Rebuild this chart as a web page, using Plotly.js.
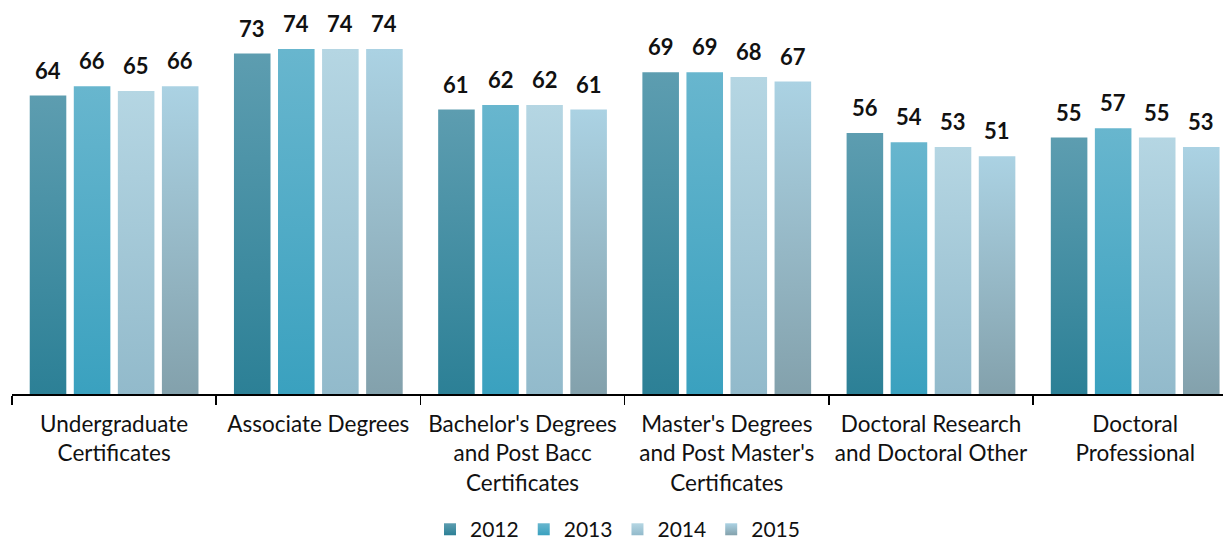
<!DOCTYPE html>
<html>
<head>
<meta charset="utf-8">
<script src="https://cdn.plot.ly/plotly-3.0.1.min.js"></script>
<style>
  html, body { margin: 0; padding: 0; background: #ffffff; }
  #chart { width: 1223px; height: 546px; }
</style>
</head>
<body>
<div id="chart"></div>
<script>
// ---- data ----
const categories = [
  "Undergraduate<br>Certificates",
  "Associate Degrees",
  "Bachelor's Degrees<br>and Post Bacc<br>Certificates",
  "Master's Degrees<br>and Post Master's<br>Certificates",
  "Doctoral Research<br>and Doctoral Other",
  "Doctoral<br>Professional"
];
const seriesNames = ["2012", "2013", "2014", "2015"];
const values2012 = [64, 73, 61, 69, 56, 55];
const values2013 = [66, 74, 62, 69, 54, 57];
const values2014 = [65, 74, 62, 68, 53, 55];
const values2015 = [66, 74, 61, 67, 51, 53];
const seriesValues = [values2012, values2013, values2014, values2015];

// ---- styling ----
const solidColors = ["#3e8ea4", "#48acc9", "#a6cbda", "#98b8c6"];
const gradients = [
  ["#5d9db0", "#2c8096"],
  ["#68b6ce", "#3aa1bf"],
  ["#b5d6e3", "#92bacb"],
  ["#abd2e3", "#83a1ac"]
];
const FONT = "Lato, 'Open Sans', sans-serif";

const bargap = 0.137;
const bargroupgap = 0.17;
const marginL = 12, marginR = 0, marginT = 0, marginB = 152;
const W = 1223, H = 546;
const xRange = [-0.5, 5.43];

const traces = seriesNames.map((name, i) => ({
  type: "bar",
  name: name,
  x: categories,
  y: seriesValues[i],
  marker: { color: solidColors[i], line: { width: 0 } },
  hoverinfo: "skip"
}));

// data labels as annotations (positioned on the value, shifted to each bar of the group)
const plotW = W - marginL - marginR;
const catPx = plotW / (xRange[1] - xRange[0]);
const pitch = catPx * (1 - bargap) / seriesNames.length;
const annotations = [];
seriesValues.forEach((vals, s) => {
  vals.forEach((v, c) => {
    annotations.push({
      x: categories[c], y: v, xref: "x", yref: "y",
      xshift: (s - (seriesNames.length - 1) / 2) * pitch,
      yshift: 10,
      yanchor: "bottom",
      showarrow: false,
      text: "<b>" + v + "</b>",
      font: { family: FONT, size: 22, color: "#111111" }
    });
  });
});

const layout = {
  width: W, height: H,
  margin: { l: marginL, r: marginR, t: marginT, b: marginB, pad: 0, autoexpand: false },
  paper_bgcolor: "#ffffff",
  plot_bgcolor: "#ffffff",
  barmode: "group",
  bargap: bargap,
  bargroupgap: bargroupgap,
  showlegend: true,
  legend: {
    orientation: "h",
    xref: "paper", x: 0.5, xanchor: "center",
    yref: "container", y: 0.03, yanchor: "middle",
    font: { family: FONT, size: 21, color: "#111111" },
    traceorder: "normal",
    itemclick: false, itemdoubleclick: false
  },
  xaxis: {
    type: "category",
    range: xRange,
    automargin: false,
    showline: true, linecolor: "#000000", linewidth: 2,
    ticks: "outside", tickson: "boundaries", ticklen: 9, tickcolor: "#000000", tickwidth: 1.5,
    ticklabelstandoff: 9,
    tickfont: { family: FONT, size: 22.5, color: "#111111" },
    showgrid: false, zeroline: false, fixedrange: true
  },
  yaxis: {
    range: [0, 84.5],
    automargin: false,
    visible: false, showgrid: false, zeroline: false, fixedrange: true
  },
  annotations: annotations
};

Plotly.newPlot("chart", traces, layout, { displayModeBar: false, staticPlot: true }).then(gd => {
  // apply vertical gradients to the bars and legend swatches
  const svg = gd.querySelector(".main-svg");
  const NS = "http://www.w3.org/2000/svg";
  let defs = svg.querySelector("defs");
  if (!defs) { defs = document.createElementNS(NS, "defs"); svg.insertBefore(defs, svg.firstChild); }
  gradients.forEach((g, i) => {
    const lg = document.createElementNS(NS, "linearGradient");
    lg.setAttribute("id", "bargrad" + i);
    lg.setAttribute("x1", "0"); lg.setAttribute("y1", "0");
    lg.setAttribute("x2", "0"); lg.setAttribute("y2", "1");
    const s1 = document.createElementNS(NS, "stop");
    s1.setAttribute("offset", "0"); s1.setAttribute("stop-color", g[0]);
    const s2 = document.createElementNS(NS, "stop");
    s2.setAttribute("offset", "1"); s2.setAttribute("stop-color", g[1]);
    lg.appendChild(s1); lg.appendChild(s2);
    defs.appendChild(lg);
  });
  const barTraces = gd.querySelectorAll(".barlayer .trace");
  barTraces.forEach((t, i) => {
    t.querySelectorAll("path").forEach(p => { p.style.fill = "url(#bargrad" + i + ")"; });
  });
  const legendTraces = gd.querySelectorAll(".legend .traces");
  legendTraces.forEach((t, i) => {
    t.querySelectorAll(".legendpoints path").forEach(p => { p.style.fill = "url(#bargrad" + i + ")"; });
  });
});
</script>
</body>
</html>
